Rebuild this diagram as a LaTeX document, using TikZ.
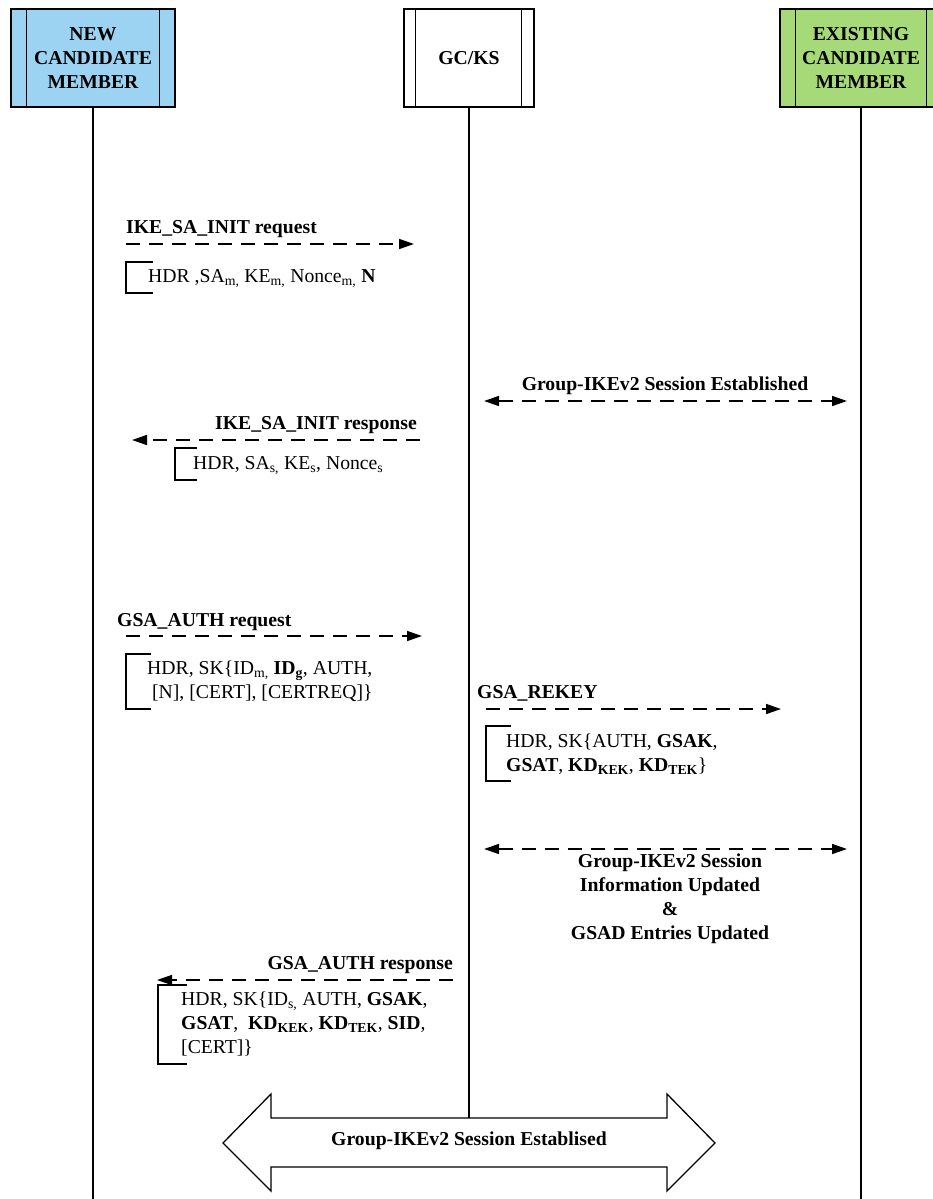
\documentclass[tikz,border=0pt]{standalone}
\usepackage{fontspec}
\setmainfont{Liberation Serif}
\usetikzlibrary{arrows.meta}

\definecolor{newblue}{RGB}{156,211,243}
\definecolor{oldgreen}{RGB}{166,218,120}

\tikzset{
  txt/.style={inner sep=0pt, font=\fontsize{19.7}{24}\selectfont},
  ttl/.style={txt, font=\fontsize{19.7}{24}\selectfont\bfseries},
  lane/.style={draw, line width=1.3pt, minimum height=98pt, inner sep=0pt,
    align=center, font=\fontsize{19.7}{24}\selectfont\bfseries},
  life/.style={line width=1.4pt},
  msg/.style={line width=1.5pt, dash pattern=on 14pt off 9pt,
    -{Triangle[length=15pt,width=10pt]}},
  msgboth/.style={msg, {Triangle[length=15pt,width=10pt]}-{Triangle[length=15pt,width=10pt]}},
  brk/.style={line width=1.4pt},
  bigarrow/.style={draw, line width=1.3pt, fill=white}
}

\begin{document}
\begin{tikzpicture}[x=1pt,y=-1pt]
\useasboundingbox (0,0) rectangle (933,1199);
\clip (0,0) rectangle (933,1199);

% participants
\node[lane, fill=newblue, minimum width=164pt] (nm) at (93,58) {NEW\\CANDIDATE\\MEMBER};
\node[lane, fill=white, minimum width=130pt] (gc) at (469,58) {GC/KS};
\node[lane, fill=oldgreen, minimum width=162pt] (em) at (861,58) {EXISTING\\CANDIDATE\\MEMBER};

\draw[line width=1.3pt] ([xshift=16pt]nm.north west) -- ([xshift=16pt]nm.south west)
  ([xshift=-16pt]nm.north east) -- ([xshift=-16pt]nm.south east);
\draw[line width=1.3pt] ([xshift=12pt]gc.north west) -- ([xshift=12pt]gc.south west)
  ([xshift=-13pt]gc.north east) -- ([xshift=-13pt]gc.south east);
\draw[line width=1.3pt] ([xshift=16pt]em.north west) -- ([xshift=16pt]em.south west)
  ([xshift=-16pt]em.north east) -- ([xshift=-16pt]em.south east);

% lifelines
\coordinate (nmEnd) at (93,1199);
\coordinate (gcEnd) at (469,1118);
\coordinate (emEnd) at (861,1199);
\draw[life] (nm.south) -- (nmEnd);
\draw[life] (gc.south) -- (gcEnd);
\draw[life] (em.south) -- (emEnd);

% IKE_SA_INIT request
\node[ttl, anchor=base west] (t1) at (126,233) {IKE\_SA\_INIT request};
\coordinate (a1s) at (126,244);
\coordinate (a1e) at (414,244);
\draw[msg] (a1s) -- (a1e);
\draw[brk] (153,262) -- (126,262) -- (126,293) -- (153,293);
\node[txt, anchor=base west] (p1) at (148,282)
  {HDR ,SA\textsubscript{m,} KE\textsubscript{m,} Nonce\textsubscript{m,} \textbf{N}};

% session already established between GC/KS and existing member
\node[ttl, anchor=base] (t2) at (665,390) {Group-IKEv2 Session Established};
\coordinate (a2s) at (484,401);
\coordinate (a2e) at (847,401);
\draw[msgboth] (a2s) -- (a2e);

% IKE_SA_INIT response
\node[ttl, anchor=base east] (t3) at (417,429) {IKE\_SA\_INIT response};
\coordinate (a3s) at (420,440);
\coordinate (a3e) at (132,440);
\draw[msg] (a3s) -- (a3e);
\draw[brk] (197,448) -- (175,448) -- (175,480) -- (197,480);
\node[txt, anchor=base west] (p3) at (193,469)
  {HDR, SA\textsubscript{s,} KE\textsubscript{s}, Nonce\textsubscript{s}};

% GSA_AUTH request
\node[ttl, anchor=base west] (t4) at (117,626) {GSA\_AUTH request};
\coordinate (a4s) at (126,636);
\coordinate (a4e) at (422,636);
\draw[msg] (a4s) -- (a4e);
\draw[brk] (151,654) -- (126,654) -- (126,709) -- (151,709);
\node[txt, anchor=west, align=left] (p4) at (147,681)
  {HDR, SK\{ID\textsubscript{m,} \textbf{ID\textsubscript{g}}, AUTH,\\{}\ [N], [CERT], [CERTREQ]\}};

% GSA_REKEY
\node[ttl, anchor=base west] (t5) at (477,698) {GSA\_REKEY};
\coordinate (a5s) at (486,709);
\coordinate (a5e) at (781,709);
\draw[msg] (a5s) -- (a5e);
\draw[brk] (511,726) -- (486,726) -- (486,781) -- (511,781);
\node[txt, anchor=west, align=left] (p5) at (506,754)
  {HDR, SK\{AUTH, \textbf{GSAK},\\
   \textbf{GSAT}, \textbf{KD\textsubscript{KEK}}, \textbf{KD\textsubscript{TEK}}\}};

% session information update
\coordinate (a6s) at (484,849);
\coordinate (a6e) at (847,849);
\draw[msgboth] (a6s) -- (a6e);
\node[ttl, anchor=center, align=center] (t6) at (670,899)
  {Group-IKEv2 Session\\Information Updated\\\&\\GSAD Entries Updated};

% GSA_AUTH response
\node[ttl, anchor=base east] (t7) at (453,969) {GSA\_AUTH response};
\coordinate (a7s) at (453,980);
\coordinate (a7e) at (157,980);
\draw[msg] (a7s) -- (a7e);
\draw[brk] (187,985) -- (158,985) -- (158,1064) -- (187,1064);
\node[txt, anchor=west, align=left] (p7) at (181,1024)
  {HDR, SK\{ID\textsubscript{s,} AUTH, \textbf{GSAK},\\
   \textbf{GSAT},\ \ \textbf{KD\textsubscript{KEK}}, \textbf{KD\textsubscript{TEK}}, \textbf{SID},\\{}[CERT]\}};

% final group session
\draw[bigarrow] (223,1143) -- (271,1094) -- (271,1118) -- (667,1118) -- (667,1094)
  -- (715,1143) -- (667,1191) -- (667,1167) -- (271,1167) -- (271,1191) -- cycle;
\draw[life] (gc.south) -- (gcEnd);
\node[ttl, anchor=center] (t8) at (469,1141) {Group-IKEv2 Session Establised};

\end{tikzpicture}
\end{document}
